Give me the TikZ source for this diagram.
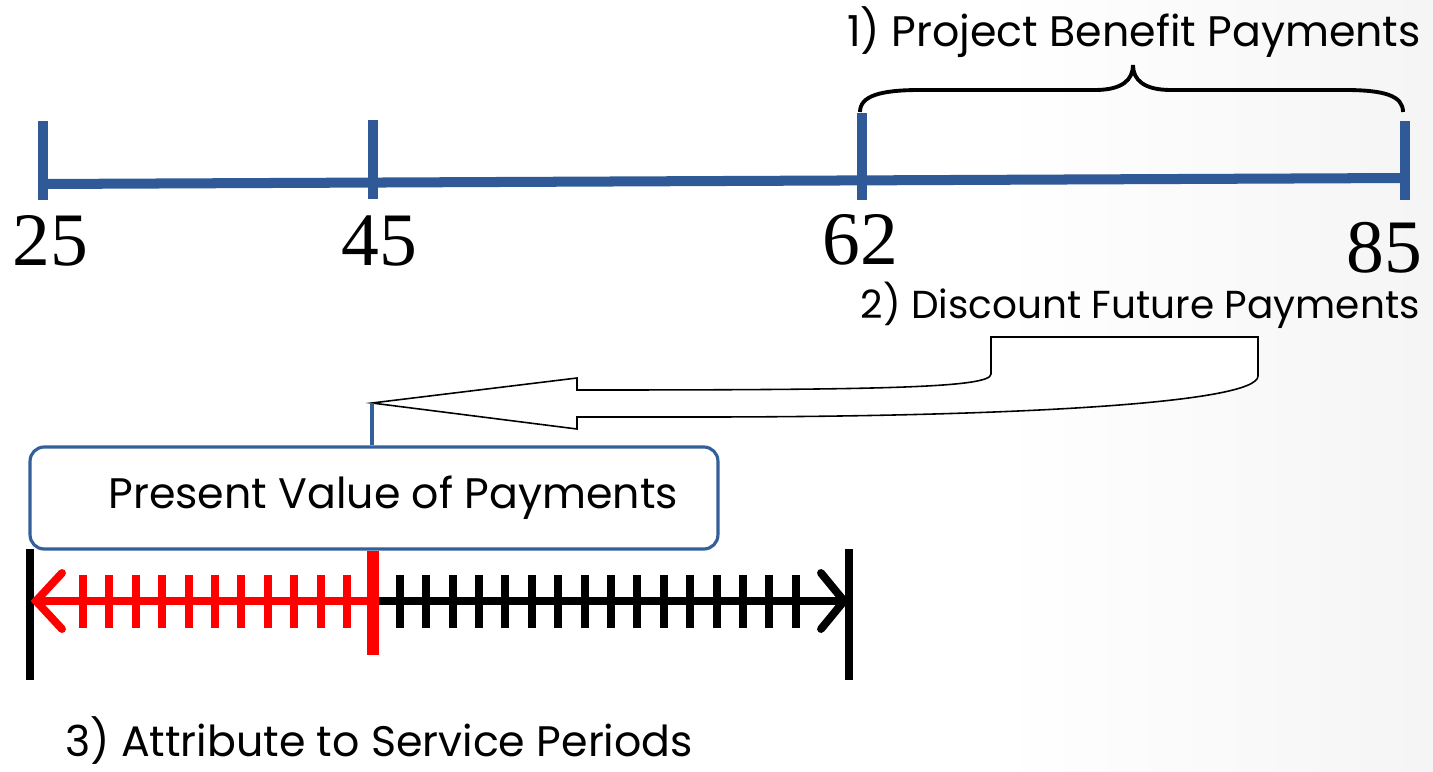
\documentclass[tikz,border=0pt]{standalone}
\usepackage{fontspec}
\setmainfont{Poppins}
\newfontfamily\numfont{Liberation Serif}
\usetikzlibrary{positioning,calc}
\definecolor{axisblue}{HTML}{2F5A97}
\definecolor{boxblue}{HTML}{335F9A}
\definecolor{pvred}{HTML}{FF0000}
\tikzset{
  ageaxis/.style={draw=axisblue, line width=5.7pt},
  agelabel/.style={font=\numfont\fontsize{43}{43}\selectfont, inner sep=0pt},
  steplabel/.style={font=\fontsize{24.3}{28}\selectfont, inner sep=0pt},
  pvbox/.style={draw=boxblue, line width=1.8pt, rounded corners=8pt,
                minimum width=13.76cm, minimum height=2.04cm, fill=white,
                font=\fontsize{24.3}{28}\selectfont},
  conn/.style={draw=boxblue, line width=2pt},
  hollow/.style={draw=black, line width=0.9pt, fill=white},
  bracket/.style={draw=black, line width=2.2pt},
  redline/.style={draw=pvred, line width=4.5pt},
  blackline/.style={draw=black, line width=4.5pt},
  barb/.style={line cap=round, line join=miter}
}
\begin{document}
\begin{tikzpicture}[x=0.02cm, y=-0.02cm]
  \useasboundingbox (0,0) rectangle (1433,771);
  \shade[left color=white, right color=black!4] (1000,0) rectangle (1433,771);

  % ages time line
  \coordinate (t25) at (43,184);
  \coordinate (t85) at (1405,178);
  \draw[ageaxis] (t25) -- (t85);
  \foreach \x/\yt/\yb in {43/121/200, 373/120/199, 862/113/200, 1405/121/200}
    \draw[ageaxis] (\x,\yt) -- (\x,\yb);
  \node[agelabel] (a25) at (50,241) {25};
  \node[agelabel] (a45) at (379,241) {45};
  \node[agelabel] (a62) at (860,240) {62};
  \node[agelabel] (a85) at (1384,248) {85};

  % step 1
  \draw[bracket] (860,112) .. controls (860,96) and (880,90) .. (920,90)
    -- (1095,90) .. controls (1122,90) and (1133,80) .. (1133,65)
    .. controls (1133,80) and (1144,90) .. (1171,90)
    -- (1345,90) .. controls (1385,90) and (1403,96) .. (1403,112);
  \node[steplabel] (s1) at (1134,32) {1) Project Benefit Payments};

  % step 2
  \node[steplabel, font=\fontsize{22.2}{26}\selectfont, anchor=east] (s2)
    at (1420,305) {2) Discount Future Payments};
  \coordinate (tip) at (372,403);
  \draw[hollow] (tip) -- (577,378) -- (577,390)
    .. controls (880,390) and (991,388) .. (991,374) -- (991,337)
    -- (1258,337) -- (1258,376)
    .. controls (1258,404) and (1000,417) .. (700,417)
    -- (577,417) -- (577,429) -- cycle;
  \node[pvbox] (pv) at (374,498) {\hspace*{0.9em}Present Value of Payments};
  \draw[conn] (tip) -- (tip |- pv.north);

  % step 3
  \draw[blackline] (30,549) -- (30,680);
  \draw[blackline] (849,549) -- (849,680);
  \coordinate (now) at (373,601);
  \coordinate (start) at (36,601);
  \coordinate (end) at (844,601);
  \draw[blackline] (now) -- (end);
  \draw[redline] (now) -- (start);
  \foreach \k in {0,...,10}
    \draw[redline] ({83+26.4*\k},575) -- ({83+26.4*\k},628);
  \foreach \k in {12,...,27}
    \draw[blackline] ({83+26.4*\k},575) -- ({83+26.4*\k},628);
  \draw[redline, barb] (62,573) -- (start) -- (62,629);
  \draw[blackline, barb] (821,573) -- (end) -- (821,629);
  \draw[redline, line width=6.8pt] (373,551) -- (373,655);
  \node[steplabel] (s3) at (379,741) {3) Attribute to Service Periods};
\end{tikzpicture}
\end{document}
